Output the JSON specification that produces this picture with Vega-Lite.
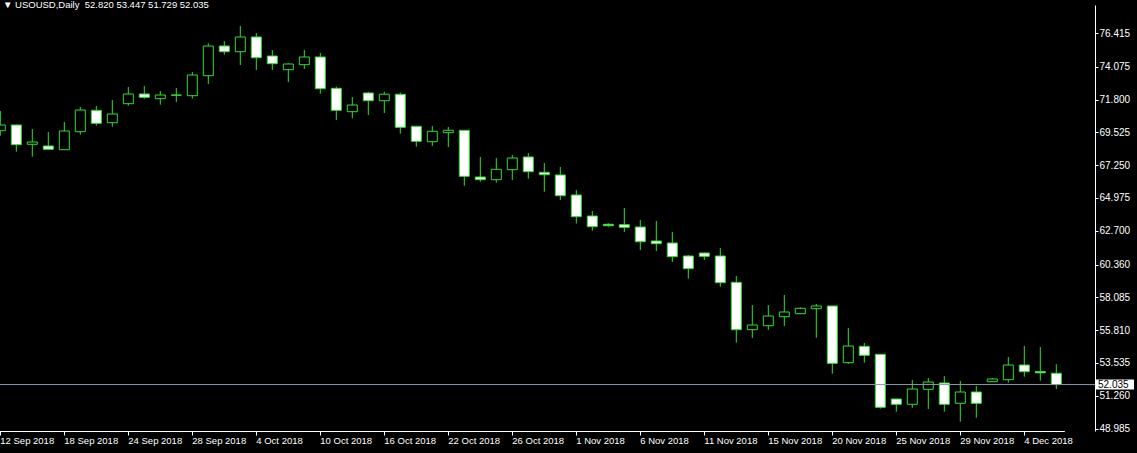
{
  "$schema": "https://vega.github.io/schema/vega-lite/v6.json",
  "width": 1095,
  "height": 426,
  "autosize": "none",
  "padding": {"left": 0, "top": 5, "right": 42, "bottom": 22},
  "background": "black",
  "view": {"stroke": null, "fill": "black"},
  "config": {
    "font": "Liberation Sans",
    "axis": {"labelFont": "Liberation Sans", "grid": false, "labelOverlap": false, "labelBound": false, "labelFlush": false}
  },
  "title": {
    "text": "▼ USOUSD,Daily\u00a0\u00a052.820 53.447 51.729 52.035",
    "anchor": "start",
    "frame": "group",
    "orient": "top",
    "offset": 0,
    "baseline": "alphabetic",
    "dx": 3,
    "dy": 12.5,
    "color": "white",
    "fontSize": 9.5,
    "fontWeight": "normal",
    "font": "Liberation Sans"
  },
  "datasets": {
    "candles": [
      {"d": "12 Sep 2018", "o": 69.640, "h": 71.006, "l": 69.293, "c": 70.035},
      {"d": "13 Sep 2018", "o": 70.035, "h": 70.060, "l": 68.183, "c": 68.669},
      {"d": "14 Sep 2018", "o": 68.697, "h": 69.758, "l": 67.837, "c": 68.856},
      {"d": "17 Sep 2018", "o": 68.579, "h": 69.549, "l": 68.340, "c": 68.350},
      {"d": "18 Sep 2018", "o": 68.322, "h": 70.243, "l": 68.310, "c": 69.619},
      {"d": "19 Sep 2018", "o": 69.570, "h": 71.283, "l": 69.362, "c": 71.075},
      {"d": "20 Sep 2018", "o": 71.054, "h": 71.353, "l": 69.986, "c": 70.153},
      {"d": "21 Sep 2018", "o": 70.194, "h": 71.769, "l": 69.917, "c": 70.798},
      {"d": "24 Sep 2018", "o": 71.512, "h": 72.670, "l": 71.373, "c": 72.185},
      {"d": "25 Sep 2018", "o": 72.185, "h": 72.740, "l": 71.859, "c": 71.956},
      {"d": "26 Sep 2018", "o": 71.859, "h": 72.393, "l": 71.443, "c": 72.115},
      {"d": "27 Sep 2018", "o": 72.115, "h": 72.601, "l": 71.630, "c": 72.100},
      {"d": "28 Sep 2018", "o": 72.067, "h": 73.710, "l": 71.859, "c": 73.502},
      {"d": "1 Oct 2018", "o": 73.454, "h": 75.701, "l": 72.878, "c": 75.513},
      {"d": "2 Oct 2018", "o": 75.513, "h": 75.860, "l": 74.910, "c": 75.118},
      {"d": "3 Oct 2018", "o": 75.118, "h": 76.900, "l": 74.196, "c": 76.138},
      {"d": "4 Oct 2018", "o": 76.138, "h": 76.415, "l": 73.849, "c": 74.702},
      {"d": "5 Oct 2018", "o": 74.820, "h": 75.236, "l": 73.849, "c": 74.286},
      {"d": "8 Oct 2018", "o": 73.870, "h": 74.314, "l": 73.017, "c": 74.265},
      {"d": "9 Oct 2018", "o": 74.217, "h": 75.236, "l": 73.918, "c": 74.751},
      {"d": "10 Oct 2018", "o": 74.751, "h": 75.028, "l": 72.206, "c": 72.552},
      {"d": "11 Oct 2018", "o": 72.580, "h": 72.691, "l": 70.382, "c": 71.054},
      {"d": "12 Oct 2018", "o": 70.957, "h": 71.977, "l": 70.500, "c": 71.422},
      {"d": "15 Oct 2018", "o": 72.254, "h": 72.344, "l": 70.728, "c": 71.720},
      {"d": "16 Oct 2018", "o": 71.720, "h": 72.344, "l": 70.867, "c": 72.171},
      {"d": "17 Oct 2018", "o": 72.164, "h": 72.275, "l": 69.432, "c": 69.875},
      {"d": "18 Oct 2018", "o": 69.945, "h": 69.966, "l": 68.530, "c": 68.905},
      {"d": "19 Oct 2018", "o": 68.877, "h": 69.966, "l": 68.579, "c": 69.598},
      {"d": "22 Oct 2018", "o": 69.501, "h": 69.896, "l": 68.509, "c": 69.667},
      {"d": "23 Oct 2018", "o": 69.667, "h": 69.688, "l": 65.825, "c": 66.477},
      {"d": "24 Oct 2018", "o": 66.429, "h": 67.816, "l": 66.103, "c": 66.242},
      {"d": "25 Oct 2018", "o": 66.242, "h": 67.746, "l": 66.034, "c": 66.963},
      {"d": "26 Oct 2018", "o": 66.935, "h": 67.955, "l": 66.221, "c": 67.746},
      {"d": "29 Oct 2018", "o": 67.816, "h": 68.093, "l": 66.311, "c": 66.796},
      {"d": "30 Oct 2018", "o": 66.755, "h": 67.400, "l": 65.409, "c": 66.588},
      {"d": "31 Oct 2018", "o": 66.568, "h": 67.122, "l": 64.834, "c": 65.132},
      {"d": "1 Nov 2018", "o": 65.181, "h": 65.527, "l": 63.204, "c": 63.676},
      {"d": "2 Nov 2018", "o": 63.724, "h": 64.071, "l": 62.705, "c": 62.982},
      {"d": "4 Nov 2018", "o": 63.149, "h": 63.218, "l": 62.982, "c": 63.052},
      {"d": "5 Nov 2018", "o": 63.121, "h": 64.279, "l": 62.615, "c": 62.941},
      {"d": "6 Nov 2018", "o": 62.961, "h": 63.447, "l": 61.366, "c": 61.942},
      {"d": "7 Nov 2018", "o": 61.991, "h": 63.378, "l": 61.297, "c": 61.803},
      {"d": "8 Nov 2018", "o": 61.852, "h": 62.615, "l": 60.534, "c": 60.902},
      {"d": "9 Nov 2018", "o": 60.950, "h": 61.020, "l": 59.376, "c": 60.070},
      {"d": "11 Nov 2018", "o": 61.158, "h": 61.179, "l": 60.673, "c": 60.930},
      {"d": "12 Nov 2018", "o": 60.950, "h": 61.505, "l": 58.821, "c": 59.099},
      {"d": "13 Nov 2018", "o": 59.126, "h": 59.563, "l": 54.938, "c": 55.839},
      {"d": "14 Nov 2018", "o": 55.839, "h": 57.552, "l": 55.264, "c": 56.165},
      {"d": "15 Nov 2018", "o": 56.117, "h": 57.552, "l": 55.819, "c": 56.789},
      {"d": "16 Nov 2018", "o": 56.741, "h": 58.246, "l": 56.096, "c": 57.067},
      {"d": "18 Nov 2018", "o": 56.949, "h": 57.393, "l": 56.949, "c": 57.323},
      {"d": "19 Nov 2018", "o": 57.296, "h": 57.622, "l": 55.284, "c": 57.483},
      {"d": "20 Nov 2018", "o": 57.483, "h": 57.500, "l": 52.788, "c": 53.509},
      {"d": "21 Nov 2018", "o": 53.551, "h": 55.957, "l": 53.461, "c": 54.709},
      {"d": "22 Nov 2018", "o": 54.688, "h": 54.917, "l": 53.551, "c": 54.064},
      {"d": "23 Nov 2018", "o": 54.133, "h": 54.140, "l": 50.361, "c": 50.458},
      {"d": "25 Nov 2018", "o": 51.033, "h": 51.040, "l": 50.153, "c": 50.666},
      {"d": "26 Nov 2018", "o": 50.666, "h": 52.351, "l": 50.430, "c": 51.727},
      {"d": "27 Nov 2018", "o": 51.706, "h": 52.490, "l": 50.340, "c": 52.213},
      {"d": "28 Nov 2018", "o": 52.143, "h": 52.629, "l": 50.153, "c": 50.666},
      {"d": "29 Nov 2018", "o": 50.735, "h": 52.282, "l": 49.459, "c": 51.519},
      {"d": "30 Nov 2018", "o": 51.519, "h": 51.935, "l": 49.737, "c": 50.735},
      {"d": "2 Dec 2018", "o": 52.233, "h": 52.490, "l": 52.233, "c": 52.421},
      {"d": "3 Dec 2018", "o": 52.372, "h": 53.946, "l": 52.164, "c": 53.391},
      {"d": "4 Dec 2018", "o": 53.391, "h": 54.709, "l": 52.580, "c": 52.927},
      {"d": "5 Dec 2018", "o": 52.941, "h": 54.640, "l": 52.303, "c": 52.850},
      {"d": "6 Dec 2018", "o": 52.820, "h": 53.447, "l": 51.729, "c": 52.035}
    ],
    "bid": [{"price": 52.035}]
  },
  "layer": [
    {
      "data": {"name": "candles"},
      "mark": {"type": "rule", "color": "#33dd33", "strokeWidth": 1},
      "encoding": {
        "x": {
          "field": "d",
          "type": "ordinal",
          "sort": null,
          "scale": {"type": "band", "range": [-7.7, 1064.3], "paddingInner": 0, "paddingOuter": 0},
          "axis": {
            "orient": "bottom",
            "title": null,
            "values": ["12 Sep 2018", "18 Sep 2018", "24 Sep 2018", "28 Sep 2018", "4 Oct 2018", "10 Oct 2018", "16 Oct 2018", "22 Oct 2018", "26 Oct 2018", "1 Nov 2018", "6 Nov 2018", "11 Nov 2018", "15 Nov 2018", "20 Nov 2018", "25 Nov 2018", "29 Nov 2018", "4 Dec 2018"],
            "labelAngle": 0,
            "labelAlign": "left",
            "labelBaseline": "top",
            "labelDx": 1,
            "labelPadding": 0,
            "labelColor": "white",
            "labelFontSize": 9.5,
            "labelOverlap": false,
            "domain": true,
            "domainColor": "white",
            "domainWidth": 1,
            "tickColor": "white",
            "tickSize": 4,
            "ticks": true
          }
        },
        "y": {
          "field": "l",
          "type": "quantitative",
          "scale": {"domain": [48.814, 78.357], "nice": false, "zero": false},
          "axis": {
            "orient": "right",
            "title": null,
            "values": [76.415, 74.075, 71.8, 69.525, 67.25, 64.975, 62.7, 60.36, 58.085, 55.81, 53.535, 51.26, 48.985],
            "tickCount": 30,
            "format": ".3f",
            "labelColor": "white",
            "labelFontSize": 10,
            "labelPadding": 1,
            "labelBaseline": "middle",
            "labelOverlap": false,
            "domain": true,
            "domainColor": "white",
            "domainWidth": 1,
            "tickColor": "white",
            "tickSize": 3
          }
        },
        "y2": {"field": "h"}
      }
    },
    {
      "data": {"name": "candles"},
      "mark": {"type": "bar", "width": 10, "stroke": "#33dd33", "strokeWidth": 1},
      "encoding": {
        "x": {"field": "d", "type": "ordinal", "sort": null},
        "y": {"field": "o", "type": "quantitative"},
        "y2": {"field": "c"},
        "fill": {
          "condition": {"test": "datum.c < datum.o", "value": "white"},
          "value": "black"
        }
      }
    },
    {
      "data": {"name": "bid"},
      "mark": {"type": "rule", "color": "#8a99a8", "strokeWidth": 1},
      "encoding": {
        "y": {"field": "price", "type": "quantitative"}
      }
    },
    {
      "mark": {"type": "rule", "color": "white", "strokeWidth": 1},
      "encoding": {
        "y": {"datum": 78.357, "type": "quantitative"}
      }
    },
    {
      "data": {"name": "bid"},
      "mark": {"type": "tick", "orient": "horizontal", "size": 38, "thickness": 10, "color": "white", "opacity": 1},
      "encoding": {
        "y": {"field": "price", "type": "quantitative"},
        "x": {"value": {"expr": "width + 20"}}
      }
    },
    {
      "data": {"name": "bid"},
      "mark": {"type": "text", "align": "left", "baseline": "middle", "color": "black", "fontSize": 10, "font": "Liberation Sans"},
      "encoding": {
        "y": {"field": "price", "type": "quantitative"},
        "x": {"value": {"expr": "width + 3"}},
        "text": {"field": "price", "type": "quantitative", "format": ".3f"}
      }
    }
  ]
}
